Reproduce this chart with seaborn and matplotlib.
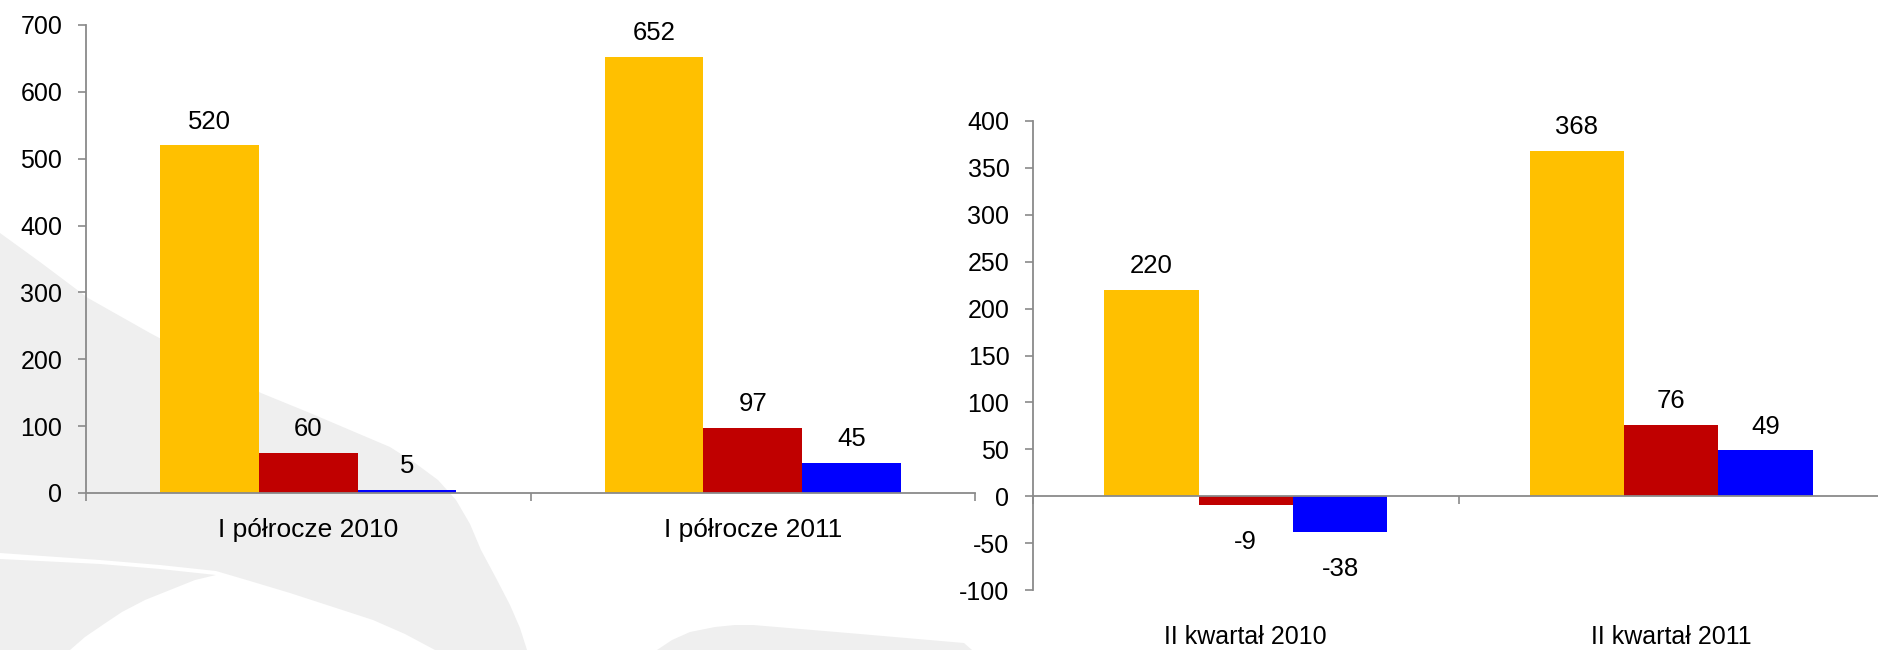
import matplotlib
matplotlib.use("Agg")
import matplotlib.pyplot as plt
import pandas as pd
import seaborn as sns
from matplotlib.patches import Polygon

# values
half_years = ["I półrocze 2010", "I półrocze 2011"]
quarters = ["II kwartał 2010", "II kwartał 2011"]
series = ["seria 1", "seria 2", "seria 3"]

half_yellow = [520, 652]
half_red = [60, 97]
half_blue = [5, 45]

q_yellow = [220, 368]
q_red = [-9, 76]
q_blue = [-38, 49]

COLORS = ["#FFC000", "#C00000", "#0000FF"]
AXIS = "#8a8a8a"
W, H = 1878, 650

sns.set_theme(style="white")
plt.rcParams["font.family"] = ["Liberation Sans", "DejaVu Sans"]
plt.rcParams["axes.unicode_minus"] = False
plt.rcParams["text.color"] = "black"


def long_frame(cats, cols):
    rows = [(c, s, v) for s, vals in zip(series, cols) for c, v in zip(cats, vals)]
    return pd.DataFrame(rows, columns=["okres", "seria", "wartosc"])


def px_box(x0, x1, top, bottom):
    return [x0 / W, 1 - bottom / H, (x1 - x0) / W, (bottom - top) / H]


def draw_bars(ax, df, ylim, step):
    sns.barplot(df, x="okres", y="wartosc", hue="seria", palette=COLORS, width=0.665,
                saturation=1, linewidth=0, errorbar=None, legend=False, ax=ax)
    ax.set_facecolor("none")
    ax.set_xlim(-0.5, 1.5)
    ax.set_ylim(*ylim)
    ax.set_yticks(range(ylim[0], ylim[1] + 1, step))
    ax.set_xlabel("")
    ax.set_ylabel("")
    for side in ["top", "right"]:
        ax.spines[side].set_visible(False)
    for side in ["left", "bottom"]:
        ax.spines[side].set_color(AXIS)
        ax.spines[side].set_linewidth(1.3)
    ax.tick_params(axis="y", left=True, length=6, width=1.2, color=AXIS,
                   labelsize=18, labelcolor="black", pad=11)
    ax.set_xticks([-0.5, 0.5, 1.5], minor=True)
    ax.tick_params(axis="x", which="minor", bottom=True, length=6, width=1.2, color=AXIS, direction="out")
    ax.tick_params(axis="x", which="major", length=0, labelsize=19, labelcolor="black")
    for cont in ax.containers:
        for bar, v in zip(cont, cont.datavalues):
            x = bar.get_x() + bar.get_width() / 2
            off = 12 if v >= 0 else -32
            ax.annotate(f"{v:.0f}", (x, v), xytext=(0, off), textcoords="offset points",
                        ha="center", va="baseline", fontsize=18.5, color="black")


fig = plt.figure(figsize=(W / 100, H / 100), dpi=100)

# faint background watermark (decoration only)
bg = fig.add_axes([0, 0, 1, 1], zorder=-1)
bg.set_xlim(0, W)
bg.set_ylim(H, 0)
bg.axis("off")
shade = "#efefef"
band = [(0, 233), (40, 262), (88, 298), (150, 333), (210, 365), (261, 393), (310, 413),
        (357, 433), (390, 447), (415, 463), (438, 480), (456, 500), (470, 524), (481, 550),
        (496, 578), (510, 605), (520, 628), (527, 650), (435, 650), (405, 634), (373, 620),
        (330, 606), (290, 593), (250, 581), (216, 571), (160, 565), (100, 560), (0, 553)]
corner = [(0, 559), (100, 564), (160, 569), (216, 575), (195, 580), (170, 590), (145, 600),
          (122, 612), (104, 624), (85, 637), (70, 650), (0, 650)]
blob = [(657, 650), (672, 640), (690, 632), (715, 627), (735, 625), (753, 625), (860, 634),
        (964, 643), (972, 650)]
for pts in [band, corner, blob]:
    bg.add_patch(Polygon(pts, closed=True, facecolor=shade, edgecolor="none"))

# left chart: half-years
ax1 = fig.add_axes(px_box(86, 975, 25, 493))
draw_bars(ax1, long_frame(half_years, [half_yellow, half_red, half_blue]), (0, 700), 100)
ax1.tick_params(axis="x", which="major", pad=18)

# right chart: quarters
ax2 = fig.add_axes(px_box(1033, 1884, 121, 590))
draw_bars(ax2, long_frame(quarters, [q_yellow, q_red, q_blue]), (-100, 400), 50)
ax2.spines["bottom"].set_position(("data", 0))
ax2.tick_params(axis="x", which="major", labelbottom=False)
for i, name in enumerate(quarters):
    ax2.annotate(name, (i, 0), xycoords=("data", "axes fraction"), xytext=(0, -34),
                 textcoords="offset points", ha="center", va="center", fontsize=18, color="black")

fig.savefig("out.png", dpi=100)
